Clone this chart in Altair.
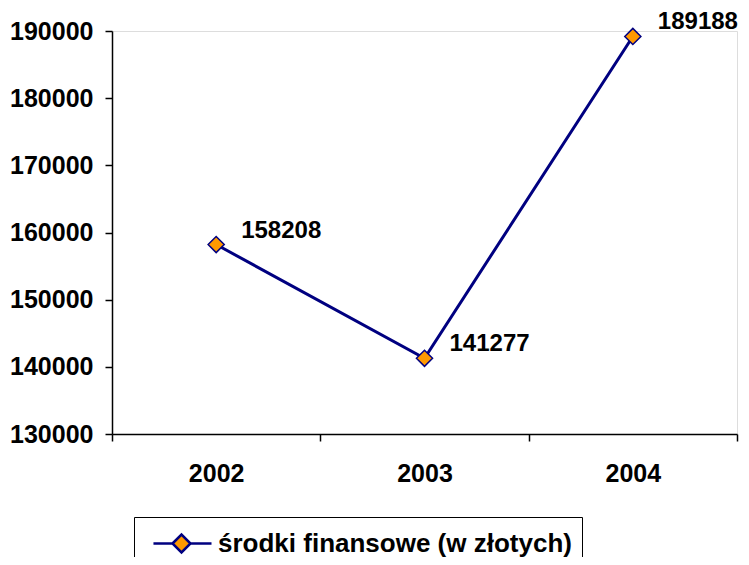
import altair as alt
import pandas as pd

years = ["2002", "2003", "2004"]
values = [158208, 141277, 189188]
series_name = "środki finansowe (w złotych)"

df = pd.DataFrame({"rok": years, "wartosc": values, "seria": [series_name] * 3})

FONT = "Liberation Sans"
NAVY = "#000080"
ORANGE = "#FF9900"
FS = 25

x_enc = alt.X(
    "rok:O",
    bandPosition=0.5,
    scale=alt.Scale(type="band", paddingInner=0, paddingOuter=0),
    axis=alt.Axis(
        title=None, labelAngle=0, tickBand="extent", tickSize=7,
        labelPadding=20, labelFontSize=FS, labelFont=FONT, labelFontWeight="bold",
        labelColor="black", domainColor="black", tickColor="black",
        domainWidth=1.5, tickWidth=1.5, grid=False,
    ),
)
y_enc = alt.Y(
    "wartosc:Q",
    scale=alt.Scale(domain=[130000, 190000], nice=False, zero=False),
    axis=alt.Axis(
        title=None, values=[130000, 140000, 150000, 160000, 170000, 180000, 190000],
        format="d", tickSize=7, labelPadding=12, labelFontSize=FS, labelFont=FONT,
        labelFontWeight="bold", labelColor="black", domainColor="black",
        tickColor="black", domainWidth=1.5, tickWidth=1.5, grid=False,
    ),
)

# legend symbol: line with a diamond, in units of 15 px (symbolSize 900)
legend_path = "M-0.47,0L0.8,0M2.0,0L3.4,0M0.8,0L1.4,-0.6L2.0,0L1.4,0.6Z"

color_enc = alt.Color(
    "seria:N",
    scale=alt.Scale(range=[NAVY]),
    legend=alt.Legend(
        title=None, orient="none", legendX=22, legendY=486,
        symbolType=legend_path, symbolSize=900, symbolFillColor=ORANGE,
        symbolStrokeColor=NAVY, symbolStrokeWidth=2.5, symbolOpacity=1,
        labelFont=FONT, labelFontSize=26, labelFontWeight="bold",
        labelColor="black", labelOffset=41, labelLimit=600,
        strokeColor="black", padding=10, fillColor="white",
    ),
)

base = alt.Chart(df).encode(x=x_enc, y=y_enc)

line = base.mark_line(strokeWidth=3, color=NAVY).encode(color=color_enc)
points = base.mark_point(
    shape="diamond", size=260, filled=True, fill=ORANGE, stroke=NAVY,
    strokeWidth=1.5, opacity=1,
)
labels = base.mark_text(
    align="left", baseline="middle", dx=25, dy=-14, font=FONT,
    fontSize=24, fontWeight="bold", color="black",
).encode(text=alt.Text("wartosc:Q", format="d"))

chart = (
    alt.layer(line, points, labels)
    .properties(
        width=625, height=403,
        autosize=alt.AutoSizeParams(type="none"),
        padding={"left": 104, "top": 23, "right": 4, "bottom": 123},
    )
    .configure_view(stroke=None)
    .configure(background="white")
)

chart.save("out.html", embed_options={"renderer": "svg", "actions": False})
